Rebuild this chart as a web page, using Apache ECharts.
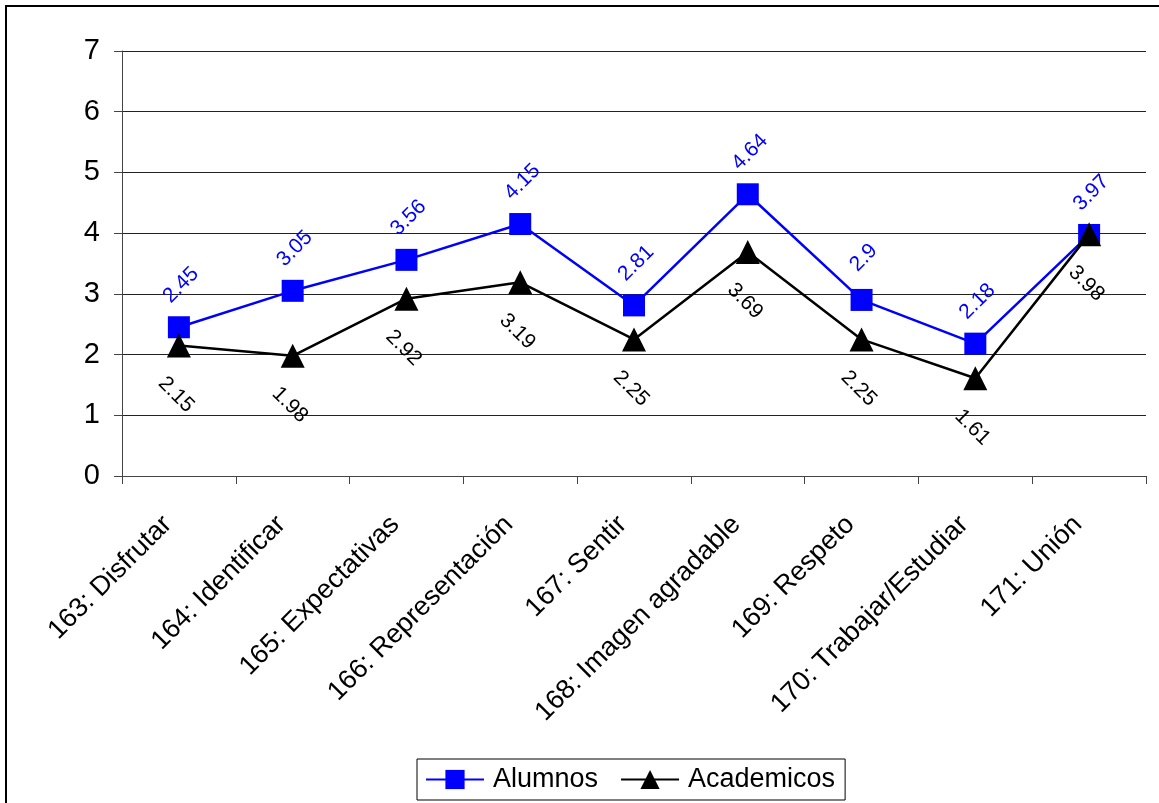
<!DOCTYPE html>
<html><head><meta charset="utf-8">
<script src="https://cdn.jsdelivr.net/npm/echarts@6/dist/echarts.min.js"></script>
<style>html,body{margin:0;padding:0;background:#fff}#c{width:1159px;height:803px}</style>
</head><body><div id="c"></div>
<script>
var categories = ['163: Disfrutar','164: Identificar','165: Expectativas','166: Representación','167: Sentir','168: Imagen agradable','169: Respeto','170: Trabajar/Estudiar','171: Unión'];
var alumnos = [2.45, 3.05, 3.56, 4.15, 2.81, 4.64, 2.9, 2.18, 3.97];
var academicos = [2.15, 1.98, 2.92, 3.19, 2.25, 3.69, 2.25, 1.61, 3.98];
var yTicks = [0,1,2,3,4,5,6,7];

var chart = echarts.init(document.getElementById('c'));
var font = '"Liberation Sans", Arial, sans-serif';
chart.setOption({
  animation: false,
  backgroundColor: '#fff',
  textStyle: {fontFamily: font},
  graphic: [{type:'rect', shape:{x:6,y:6,width:1200,height:900}, style:{fill:'none', stroke:'#000', lineWidth:2}, silent:true}],
  grid: {left:122, right:13, top:51, bottom:327},
  legend: {
    bottom: 3, left: 417,
    data: ['Alumnos','Academicos'],
    borderColor: '#000', borderWidth: 1, padding: [7, 10, 7, 8],
    itemWidth: 58, itemHeight: 24, itemGap: 22,
    textStyle: {fontSize: 27, color: '#000', fontFamily: font, padding: [0, 0, 0, 4]}
  },
  xAxis: {
    type: 'category', data: categories, boundaryGap: true,
    axisLine: {lineStyle: {color: '#444', width: 1}},
    axisTick: {show: true, length: 8, lineStyle: {color: '#444'}},
    axisLabel: {rotate: 45, fontSize: 27, color: '#000', margin: 33, interval: 0, fontFamily: font,
      padding: [0, 16, 0, 0]}
  },
  yAxis: {
    type: 'value', min: 0, max: 7, interval: 1,
    axisLine: {show: true, lineStyle: {color: '#444'}},
    axisTick: {show: true, length: 8, inside: false, lineStyle: {color: '#444'}},
    axisLabel: {fontSize: 29, color: '#000', margin: 22, fontFamily: font,
      formatter: function(v){ return yTicks.indexOf(v) >= 0 ? String(v) : ''; }},
    splitLine: {show: true, lineStyle: {color: '#222', width: 1}}
  },
  series: [
    {
      name: 'Alumnos', type: 'line', data: alumnos,
      symbol: 'rect', symbolSize: 22,
      itemStyle: {color: '#0000ff'},
      lineStyle: {color: '#0000ff', width: 2.5},
      label: {show: true, position: 'top', distance: 29, rotate: 45, align: 'center', verticalAlign: 'middle',
        offset: [3, 0], color: '#0000ff', fontSize: 21, fontFamily: font},
      z: 2
    },
    {
      name: 'Academicos', type: 'line', data: academicos,
      symbol: 'triangle', symbolSize: [24, 24],
      itemStyle: {color: '#000'},
      lineStyle: {color: '#000', width: 2.5},
      label: {show: true, position: 'bottom', distance: 40, rotate: -45, align: 'center', verticalAlign: 'middle',
        offset: [-4, 0], color: '#000', fontSize: 21, fontFamily: font},
      z: 3
    }
  ]
});
</script></body></html>
